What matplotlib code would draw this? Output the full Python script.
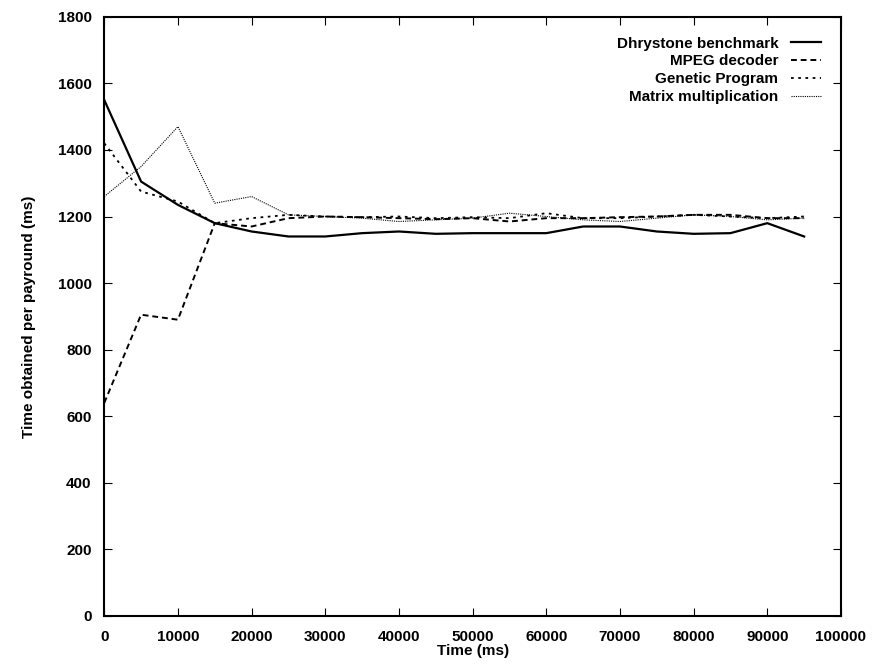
import matplotlib
matplotlib.use("Agg")
import matplotlib.pyplot as plt

plt.rcParams['font.family'] = ['Liberation Sans', 'DejaVu Sans']
plt.rcParams['font.weight'] = 'bold'

t = [0, 5000, 10000, 15000, 20000, 25000, 30000, 35000, 40000, 45000,
     50000, 55000, 60000, 65000, 70000, 75000, 80000, 85000, 90000, 95000]
dhrystone = [1550, 1305, 1235, 1180, 1155, 1140, 1140, 1150, 1155, 1148,
             1150, 1150, 1150, 1170, 1170, 1155, 1148, 1150, 1180, 1140]
mpeg = [640, 905, 890, 1180, 1170, 1195, 1200, 1198, 1195, 1192,
        1195, 1185, 1195, 1195, 1198, 1200, 1205, 1205, 1195, 1195]
genetic = [1420, 1275, 1245, 1180, 1195, 1205, 1200, 1198, 1200, 1195,
           1198, 1195, 1210, 1195, 1195, 1200, 1205, 1200, 1195, 1200]
matrix = [1260, 1350, 1470, 1240, 1260, 1205, 1200, 1195, 1185, 1190,
          1195, 1210, 1200, 1190, 1185, 1195, 1205, 1200, 1190, 1195]

fig = plt.figure(figsize=(8.76, 6.71), dpi=100)
ax = fig.add_axes([0.119, 0.082, 0.841, 0.893])

ax.plot(t, dhrystone, color='black', lw=1.6, ls='-', label='Dhrystone benchmark')
ax.plot(t, mpeg, color='black', lw=1.4, ls=(0, (3, 2)), label='MPEG decoder')
ax.plot(t, genetic, color='black', lw=1.3, ls=(0, (1.5, 2.5)), label='Genetic Program')
ax.plot(t, matrix, color='black', lw=0.8, ls=(0, (1, 1)), label='Matrix multiplication')

ax.set_xlim(0, 100000)
ax.set_ylim(0, 1800)
ax.set_xticks(range(0, 100001, 10000))
ax.set_yticks(range(0, 1801, 200))
ax.tick_params(direction='in', top=True, right=True, length=6, labelsize=11)
ax.tick_params(axis='x', pad=10)
ax.tick_params(axis='y', pad=9)
for s in ax.spines.values():
    s.set_linewidth(1.5)

ax.set_xlabel('Time (ms)', fontsize=11, fontweight='bold', labelpad=0)
ax.set_ylabel('Time obtained per payround (ms)', fontsize=11, fontweight='bold', labelpad=16)

ax.legend(loc='upper right', frameon=False, markerfirst=False, fontsize=11,
          handlelength=2.0, labelspacing=0.25, borderaxespad=0.9)

fig.savefig('out.png', dpi=100)
